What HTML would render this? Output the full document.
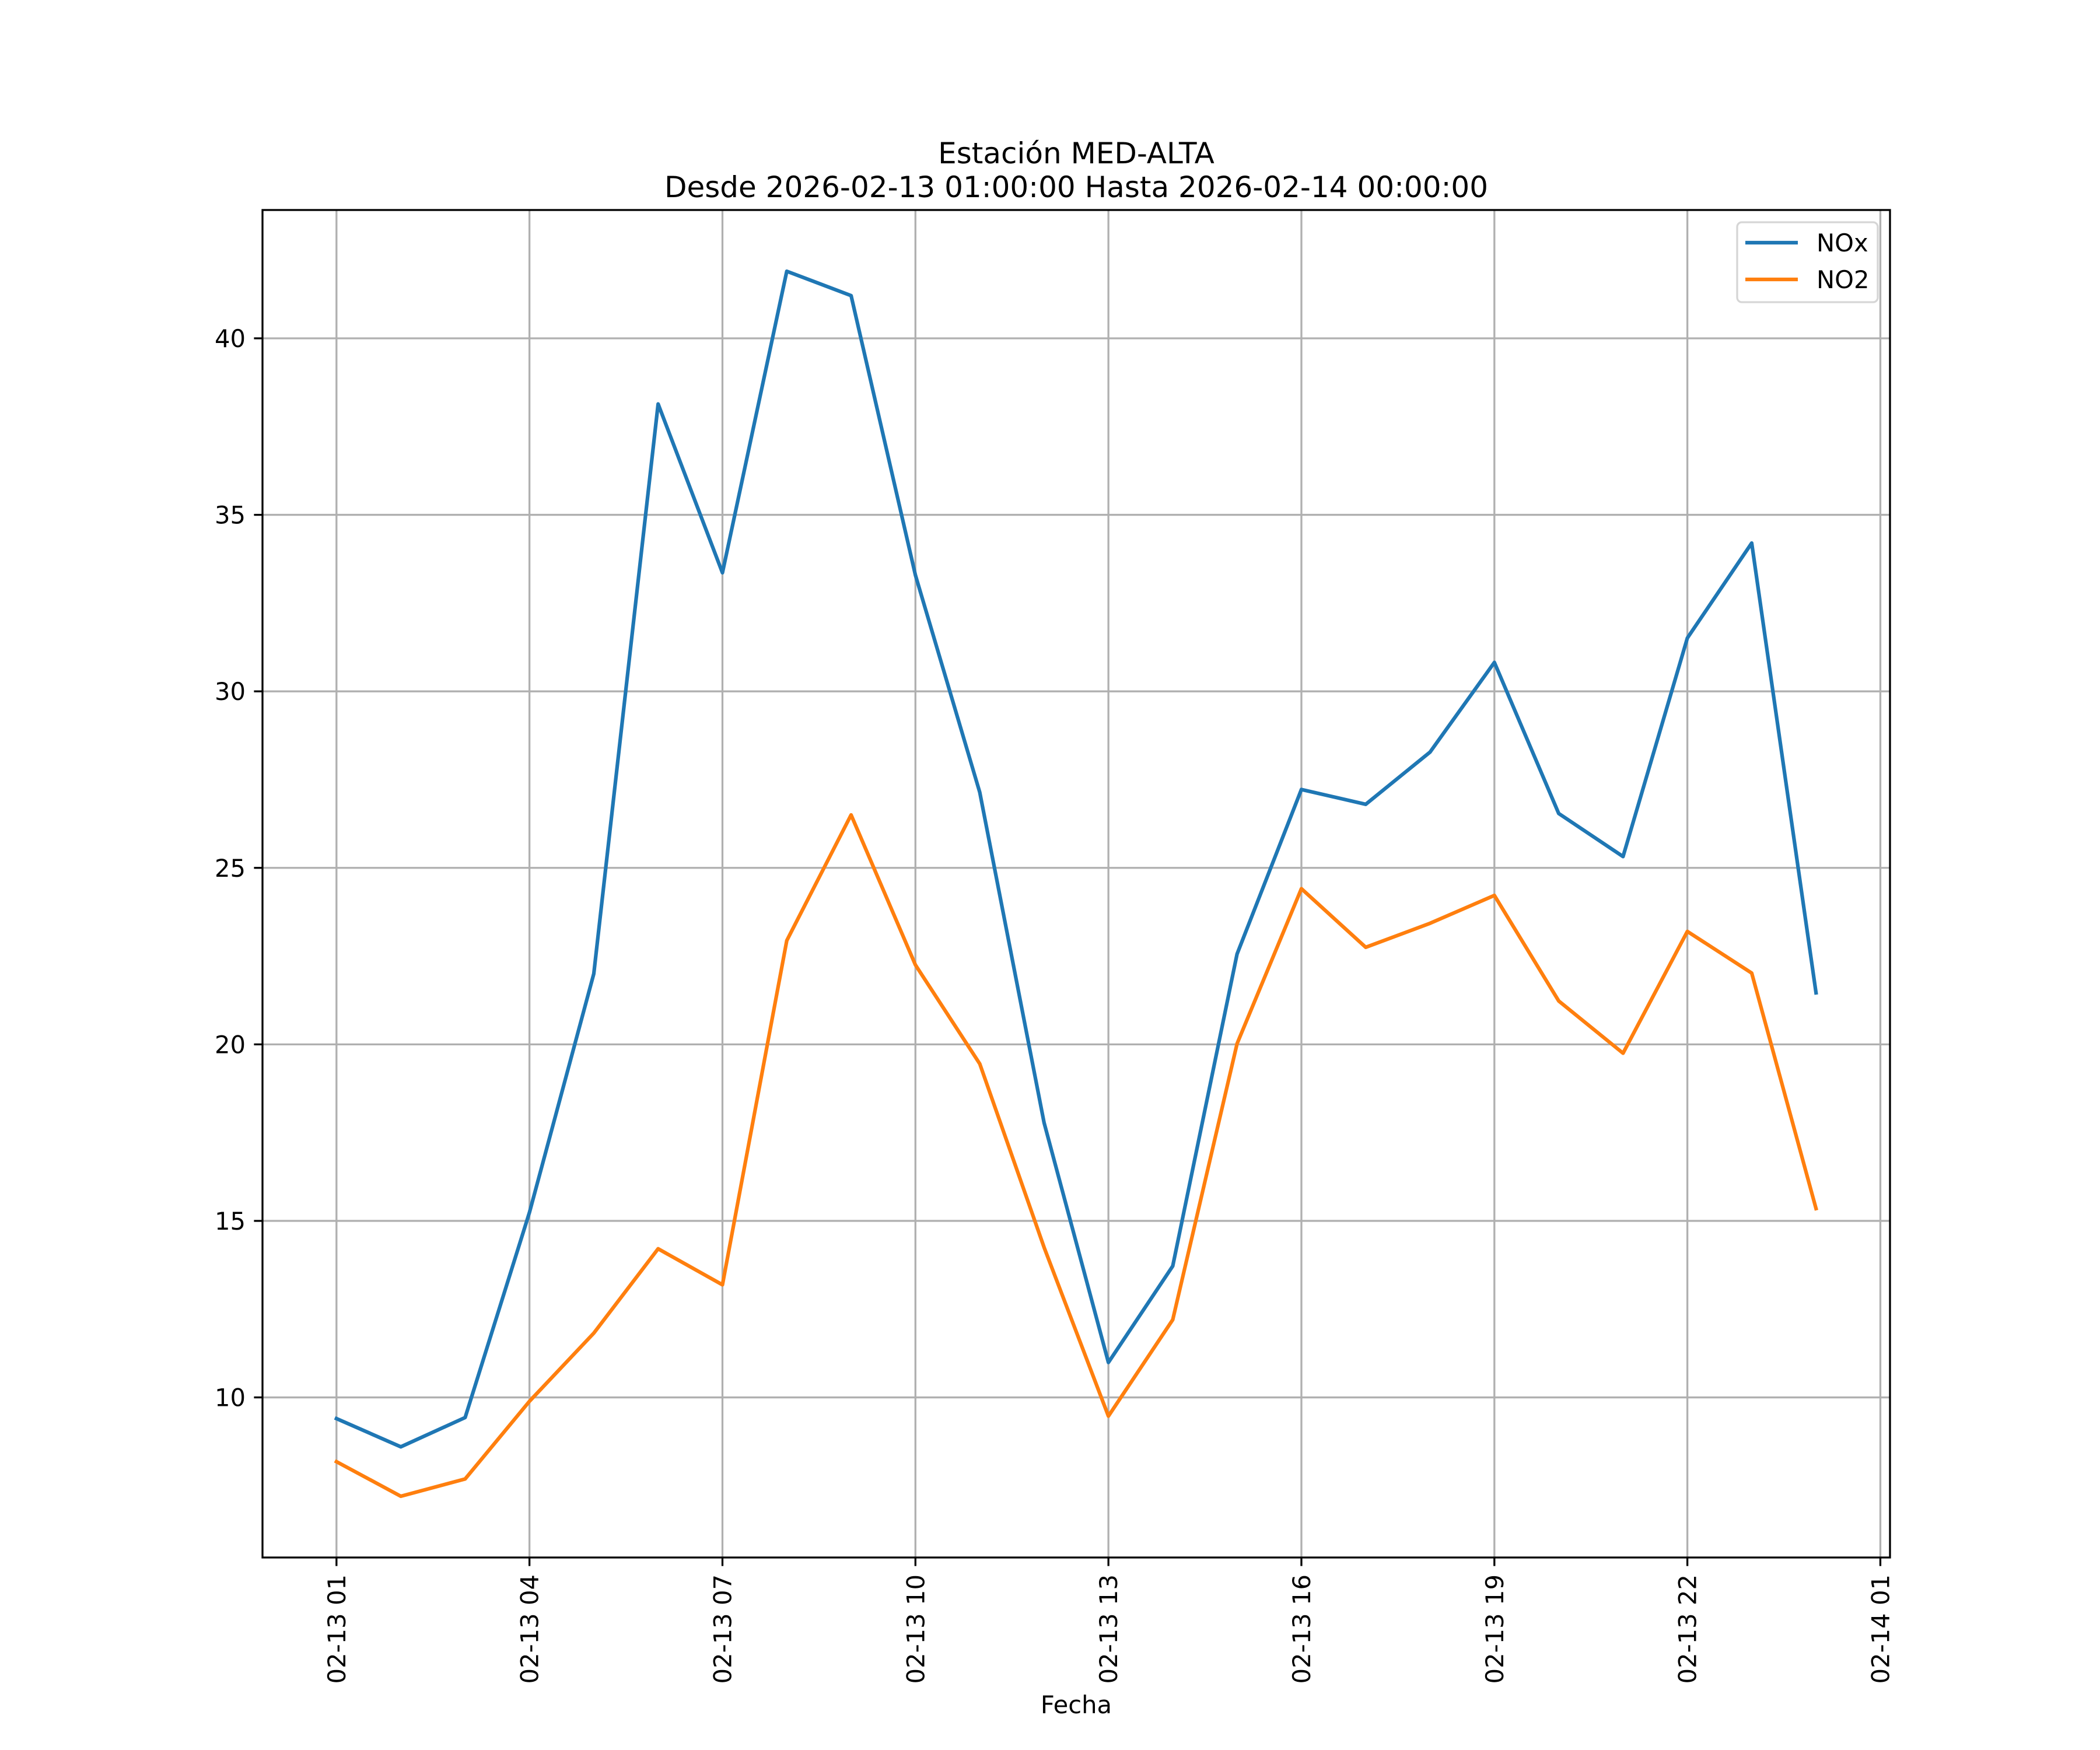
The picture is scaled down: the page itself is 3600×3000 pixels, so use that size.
<!DOCTYPE html>
<html><head><meta charset="utf-8"><style>
html,body{margin:0;padding:0;background:#fff;}
svg{display:block;font-family:"DejaVu Sans","Liberation Sans",sans-serif;}
</style></head><body>
<svg id="chart" width="3600" height="3000" viewBox="0 0 3600 3000" xmlns="http://www.w3.org/2000/svg">
<rect width="3600" height="3000" fill="#fff"/>
<text x="1845" y="280" font-size="50" text-anchor="middle">Estación MED-ALTA</text>
<text x="1845" y="338" font-size="50" text-anchor="middle">Desde 2026-02-13 01:00:00 Hasta 2026-02-14 00:00:00</text>
<g id="grid"></g>
<g id="series"></g>
<rect x="450" y="360" width="2790" height="2310" fill="none" stroke="#000" stroke-width="3.3"/>
<g id="ticks"></g>
<text x="1845" y="2937" font-size="41.7" text-anchor="middle">Fecha</text>
<g>
<rect x="2978" y="381" width="241" height="137" rx="8" fill="#fff" fill-opacity="0.8" stroke="#d6d6d6" stroke-width="3.3"/>
<line x1="2992" y1="416" x2="3082" y2="416" stroke="#1f77b4" stroke-width="6.25"/>
<text x="3114" y="431" font-size="41.7">NOx</text>
<line x1="2992" y1="479" x2="3082" y2="479" stroke="#ff7f0e" stroke-width="6.25"/>
<text x="3114" y="494" font-size="41.7">NO2</text>
</g>
</svg>
<script>
const hours = [0,1,2,3,4,5,6,7,8,9,10,11,12,13,14,15,16,17,18,19,20,21,22,23];
const noxValues = [9.40,8.60,9.43,15.24,22.0,38.14,33.36,41.90,41.21,33.29,27.14,17.78,10.99,13.72,22.56,27.22,26.80,28.28,30.82,26.54,25.32,31.51,34.20,21.46];
const no2Values = [8.18,7.20,7.69,9.89,11.82,14.21,13.19,22.94,26.5,22.25,19.45,14.25,9.47,12.20,20.02,24.41,22.75,23.43,24.22,21.23,19.75,23.20,22.02,15.35];
const xTickHours = [0,3,6,9,12,15,18,21,24];
const xTickLabels = ["02-13 01","02-13 04","02-13 07","02-13 10","02-13 13","02-13 16","02-13 19","02-13 22","02-14 01"];
const yTickValues = [10,15,20,25,30,35,40];

const NS = "http://www.w3.org/2000/svg";
const L=450,R=3240,T=360,B=2670;
const X0=-1.15,X1=24.15;
const allV = noxValues.concat(no2Values);
const vmin=Math.min(...allV), vmax=Math.max(...allV), pad=(vmax-vmin)*0.05;
const Y0=vmin-pad, Y1=vmax+pad;
const xs=h=>L+(h-X0)/(X1-X0)*(R-L);
const ys=v=>B-(v-Y0)/(Y1-Y0)*(B-T);
function mk(tag,attrs,parent){const e=document.createElementNS(NS,tag);for(const k in attrs)e.setAttribute(k,attrs[k]);parent.appendChild(e);return e;}
const grid=document.getElementById('grid'),ticks=document.getElementById('ticks'),series=document.getElementById('series');
xTickHours.forEach((h,i)=>{
  const x=xs(h);
  const g=mk('line',{x1:x,x2:x,y1:T,y2:B,stroke:'#b0b0b0','stroke-width':3.3},grid);
  
  
  const t=mk('line',{x1:x,x2:x,y1:B,y2:B+14.6,stroke:'#000','stroke-width':3.3},ticks);
  
  
  const lab=mk('text',{x:0,y:0,'font-size':41.7,'text-anchor':'end',transform:`translate(${x+15},${B+29}) rotate(-90)`},ticks);
  lab.textContent=xTickLabels[i];
  
  
});
yTickValues.forEach(v=>{
  const y=ys(v);
  const g=mk('line',{x1:L,x2:R,y1:y,y2:y,stroke:'#b0b0b0','stroke-width':3.3},grid);
  
  
  const t=mk('line',{x1:L-14.6,x2:L,y1:y,y2:y,stroke:'#000','stroke-width':3.3},ticks);
  
  
  const lab=mk('text',{x:L-29,y:y+15,'font-size':41.7,'text-anchor':'end'},ticks);
  lab.textContent=String(v);
  
  
});
function line(vals,color,name){
  const p=mk('polyline',{points:hours.map((h,i)=>xs(h)+','+ys(vals[i])).join(' '),fill:'none',stroke:color,'stroke-width':6.25,'stroke-linejoin':'round','stroke-linecap':'square'},series);
  
  
}
line(noxValues,'#1f77b4','nox-line');
line(no2Values,'#ff7f0e','no2-line');
</script>
</body></html>
